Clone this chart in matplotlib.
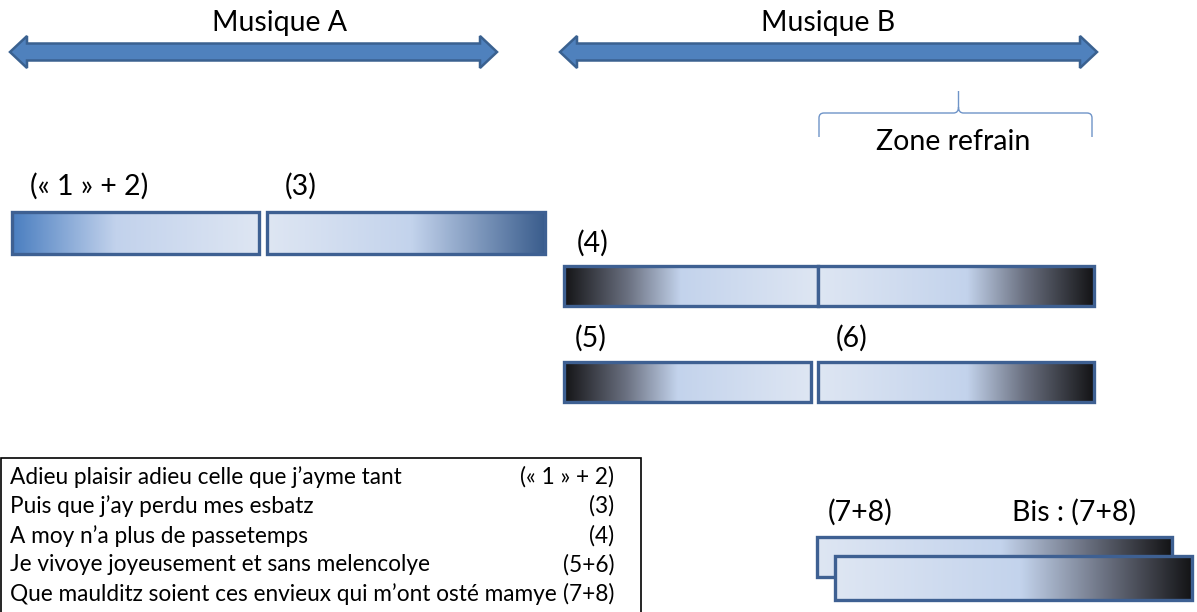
import numpy as np
import matplotlib.pyplot as plt
from matplotlib.colors import LinearSegmentedColormap
from matplotlib.patches import Polygon, Rectangle, PathPatch
from matplotlib.path import Path

plt.rcParams['font.family'] = ['Lato', 'DejaVu Sans']

# musical sections (double arrows): name, x start, x end, title centre
sections = ['Musique A', 'Musique B']
section_x0 = [10, 560]
section_x1 = [497, 1097]
section_title_x = [280, 828]

# verse bars: label, left, right, top, bottom, gradient kind
bar_labels = ['(« 1 » + 2)', '(3)', '(4)', '', '(5)', '(6)', '(7+8)', 'Bis : (7+8)']
bar_x0 = [12, 267, 564, 818, 564, 818, 817, 835]
bar_x1 = [259, 545, 818, 1094, 811, 1094, 1172, 1192]
bar_y0 = [212, 212, 266, 266, 362, 362, 537, 556]
bar_y1 = [254, 254, 306, 306, 402, 402, 577, 600]
bar_kind = ['blue_in', 'blue_out', 'dark_in', 'dark_out', 'dark_in', 'dark_out', 'dark_out_long', 'dark_out_long']
label_x = [30, 285, 577, None, 575, 836, 828, 1012]
label_y = [186, 186, 243, None, 338, 338, 512, 512]

# lyrics and their verse numbers
lyrics = ["Adieu plaisir adieu celle que j\u2019ayme tant",
          "Puis que j\u2019ay perdu mes esbatz",
          "A moy n\u2019a plus de passetemps",
          "Je vivoye joyeusement et sans melencolye",
          "Que maulditz soient ces envieux qui m\u2019ont ost\u00e9 mamye"]
verses = ['(« 1 » + 2)', '(3)', '(4)', '(5+6)', '(7+8)']

LIGHT = '#DEE6F3'
MID = '#C3D3EC'
DARK = '#141416'
cmaps = {
    'blue_in': LinearSegmentedColormap.from_list('a', [(0, '#4A7EC0'), (0.42, '#C2D2EC'), (1, LIGHT)]),
    'blue_out': LinearSegmentedColormap.from_list('b', [(0, LIGHT), (0.52, MID), (1, '#3A5D8D')]),
    'dark_in': LinearSegmentedColormap.from_list('c', [(0, DARK), (0.25, '#6A7080'), (0.46, MID), (1, LIGHT)]),
    'dark_out': LinearSegmentedColormap.from_list('d', [(0, LIGHT), (0.54, MID), (0.75, '#6A7080'), (1, DARK)]),
    'dark_out_long': LinearSegmentedColormap.from_list('e', [(0, LIGHT), (0.52, MID), (0.76, '#6A7080'), (1, DARK)]),
}
EDGE = '#3E6092'
ARROW = '#4F81BD'

fig = plt.figure(figsize=(11.97, 6.12), dpi=100)
ax = fig.add_axes([0, 0, 1, 1])
ax.set_xlim(0, 1197)
ax.set_ylim(612, 0)
ax.axis('off')


def double_arrow(x0, x1, y, shaft=8.5, head=16, hlen=17):
    pts = [(x0, y), (x0 + hlen, y - head), (x0 + hlen, y - shaft), (x1 - hlen, y - shaft),
           (x1 - hlen, y - head), (x1, y), (x1 - hlen, y + head), (x1 - hlen, y + shaft),
           (x0 + hlen, y + shaft), (x0 + hlen, y + head)]
    ax.add_patch(Polygon(pts, closed=True, facecolor=ARROW, edgecolor='#3A6190', lw=1.8, zorder=2))


for name, a, b, tx in zip(sections, section_x0, section_x1, section_title_x):
    double_arrow(a, b, 52)
    ax.text(tx, 23, name, ha='center', va='center', fontsize=20.5)

# brace for "Zone refrain"
bl, br, by, tip, bot = 819, 1092, 113, 91, 137
mid = (bl + br) / 2 + 3
verts = [(bl, bot), (bl, by + 5), (bl, by), (bl + 5, by), (mid - 5, by), (mid, by), (mid, by - 6),
         (mid, tip), (mid, by - 6), (mid, by), (mid + 5, by), (br - 5, by), (br, by), (br, by + 5), (br, bot)]
codes = [Path.MOVETO, Path.LINETO, Path.CURVE3, Path.CURVE3, Path.LINETO, Path.CURVE3, Path.CURVE3,
         Path.LINETO, Path.MOVETO, Path.CURVE3, Path.CURVE3, Path.LINETO, Path.CURVE3, Path.CURVE3, Path.LINETO]
ax.add_patch(PathPatch(Path(verts, codes), facecolor='none', edgecolor='#6F94C8', lw=1.0))
ax.text(953, 142, 'Zone refrain', ha='center', va='center', fontsize=20.5)

grad = np.linspace(0, 1, 256).reshape(1, -1)
for i in range(len(bar_x0)):
    x0, x1, y0, y1 = bar_x0[i], bar_x1[i], bar_y0[i], bar_y1[i]
    z = 3 + i * 0.1
    ax.imshow(grad, cmap=cmaps[bar_kind[i]], extent=(x0, x1, y1, y0), aspect='auto', zorder=z,
              interpolation='bilinear')
    ax.add_patch(Rectangle((x0, y0), x1 - x0, y1 - y0, facecolor='none', edgecolor=EDGE, lw=2.4, zorder=z + 0.05))
    if bar_labels[i]:
        ax.text(label_x[i], label_y[i], bar_labels[i], ha='left', va='center', fontsize=20.5, zorder=6)

# lyrics box
ax.add_patch(Rectangle((1, 458), 640, 160, facecolor='white', edgecolor='black', lw=1.2, zorder=1))
for k, (line, v) in enumerate(zip(lyrics, verses)):
    yy = 477 + k * 29.3
    ax.text(10, yy, line, ha='left', va='center', fontsize=16.3, zorder=2)
    ax.text(614, yy, v, ha='right', va='center', fontsize=16.3, zorder=2)

fig.savefig('out.png', dpi=100)
